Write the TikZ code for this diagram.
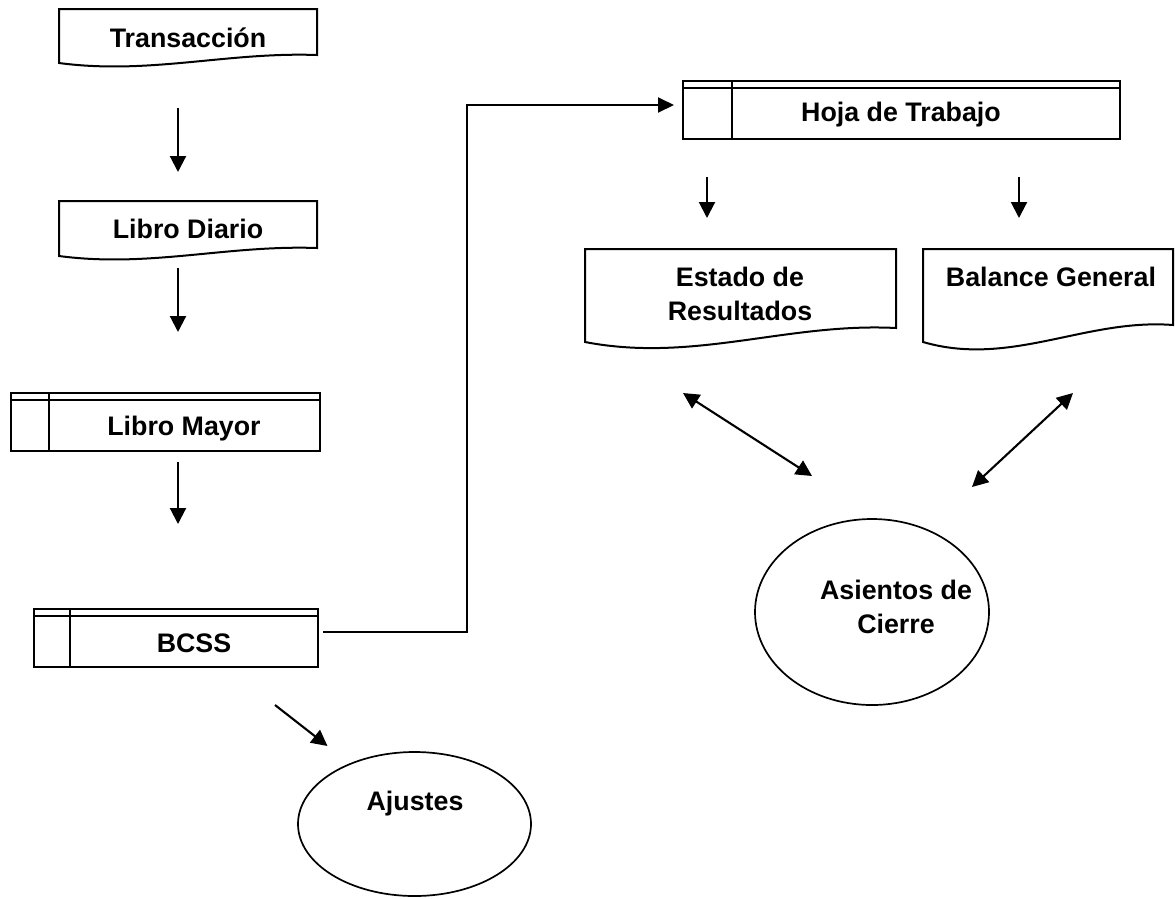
\documentclass[tikz,border=0pt]{standalone}
\usepackage{fontspec}
\setmainfont{Liberation Sans}
\usetikzlibrary{arrows.meta,shapes.geometric,calc}
\newcommand\docpath[5]{%
 \draw[outline] (#1,#4) -- (#1,#3) -- (#2,#3) -- (#2,#5)
 .. controls ({#1+0.65*(#2-#1)},{#5-0.4*(#4-#5)}) and ({#1+0.35*(#2-#1)},{#4+1.5*(#4-#5)}) .. cycle;}
\newcommand\procdeco[2]{%
 \draw[outline] (#1.north west) rectangle (#1.south east);
 \draw[thinline] ([yshift=-7pt]#1.north west) -- ([yshift=-7pt]#1.north east);
 \draw[thinline] ([xshift=#2]#1.north west) -- ([xshift=#2]#1.south west);}
\begin{document}
\begin{tikzpicture}[x=1pt,y=-1pt,
 outline/.style={line width=2pt, line join=miter},
 thinline/.style={line width=1.6pt},
 lbl/.style={font=\fontsize{26.8}{34}\selectfont\bfseries, inner sep=0pt, align=center},
 area/.style={inner sep=0pt, outer sep=0pt, draw=none},
 oval/.style={draw, ellipse, inner sep=0pt, outer sep=0pt, line width=1.7pt},
 arr/.style={line width=2.1pt, -{Triangle[length=16pt,width=16pt]}},
 darr/.style={line width=2.1pt, {Triangle[length=16pt,width=16pt]}-{Triangle[length=16pt,width=16pt]}},
 link/.style={line width=1.9pt, -{Triangle[length=16pt,width=15pt]}},
]
\useasboundingbox (0,0) rectangle (1175,898);

% document boxes
\node[area, minimum width=258pt, minimum height=54pt] (trans) at (188,36) {};
\docpath{59}{317}{9}{63}{55}
\node[lbl] (trans-t) at (188,38) {Transacción};

\node[area, minimum width=258pt, minimum height=55pt] (diario) at (188,228.5) {};
\docpath{59}{317}{201}{256}{248}
\node[lbl] (diario-t) at (188,229) {Libro Diario};

% process boxes
\node[area, minimum width=309pt, minimum height=58pt] (mayor) at (165.5,422) {};
\procdeco{mayor}{38pt}
\node[lbl] (mayor-t) at (184,429) {Libro Mayor};

\node[area, minimum width=284pt, minimum height=58pt] (bcss) at (176,638) {};
\procdeco{bcss}{36pt}
\node[lbl] (bcss-t) at (194,643) {BCSS};

\node[area, minimum width=437pt, minimum height=58pt] (hoja) at (901.5,110) {};
\procdeco{hoja}{49pt}
\node[lbl] (hoja-t) at (901,115) {Hoja de Trabajo};

% reports
\node[area, minimum width=311pt, minimum height=93pt] (estado) at (740.5,295.5) {};
\docpath{585}{896}{249}{342}{328}
\node[lbl] (estado-t) at (740,294) {Estado de\\Resultados};

\node[area, minimum width=250pt, minimum height=93pt] (balance) at (1048,295.5) {};
\docpath{923}{1173}{249}{342}{325}
\node[lbl] (balance-t) at (1051,277) {Balance General};

% ellipses
\node[oval, minimum width=234pt, minimum height=186pt] (asientos) at (872,612) {};
\node[lbl] (asientos-t) at (896,607) {Asientos de\\Cierre};

\node[oval, minimum width=233pt, minimum height=144pt] (ajustes) at (414.5,824) {};
\node[lbl] (ajustes-t) at (415,804) {Ajustes};

% connectors
\draw[arr] ($(trans.south)+(-10,45)$) -- ($(diario.north)+(-10,-29)$);
\draw[arr] ($(diario.south)+(-10,12)$) -- ($(mayor.north)+(12.5,-61)$);
\draw[arr] ($(mayor.south)+(12.5,11)$) -- ($(bcss.north)+(2,-85)$);
\draw[link] ($(bcss.east)+(5,-6)$) -- ++(144,0) |- ($(hoja.west)+(-9,-5)$);
\draw[arr] ($(bcss.south)+(99,38)$) -- ($(ajustes.center)+(-87,-78)$);
\draw[arr] ($(hoja.south)+(-194.5,38)$) -- ($(estado.north)+(-33.5,-31)$);
\draw[arr] ($(hoja.south)+(117.5,38)$) -- ($(balance.north)+(-29,-31)$);
\draw[darr] ($(estado.south)+(-57.5,51)$) -- ($(asientos.center)+(-60,-136)$);
\draw[darr] ($(balance.south)+(25,51)$) -- ($(asientos.center)+(100,-125)$);
\end{tikzpicture}
\end{document}
